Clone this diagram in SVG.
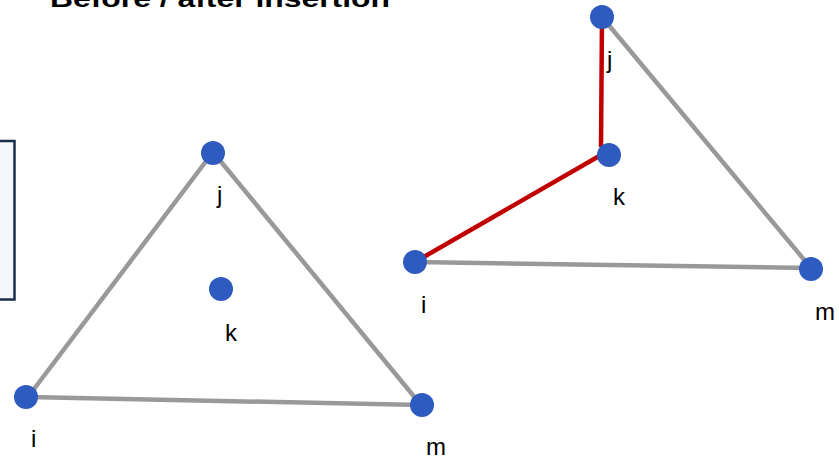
<svg xmlns="http://www.w3.org/2000/svg" width="839" height="456" viewBox="0 0 839 456">
<style>
.edge{stroke:#999999;stroke-width:4.5;fill:none;stroke-linecap:butt}
.new{stroke:#c00000;stroke-width:4.5;fill:none}
.dot{fill:#2e5bbf}
.lbl{font-family:"Liberation Sans",Arial,sans-serif;font-size:24px;fill:#000}
.title{font-family:"Liberation Sans",Arial,sans-serif;font-size:24px;font-weight:bold;fill:#000}
</style>
<rect width="839" height="456" fill="#ffffff"/>
<text class="title" x="50" y="7" textLength="340" lengthAdjust="spacingAndGlyphs">Before / after insertion</text>
<rect id="box" x="-10" y="141" width="24.5" height="158.5" fill="#f4f6f9" stroke="#1a2e4a" stroke-width="2.5"/>
<g id="connectors">
<line class="edge" x1="213" y1="152" x2="28" y2="397"/>
<line class="edge" x1="213" y1="152" x2="421" y2="405"/>
<line class="edge" x1="28" y1="397" x2="421" y2="405"/>
<line class="edge" x1="602" y1="17" x2="811" y2="268"/>
<line class="edge" x1="415" y1="262" x2="811" y2="268"/>
<line class="new" x1="602" y1="17" x2="601" y2="147"/>
<line class="new" x1="415" y1="262" x2="601" y2="155"/>
</g>
<g id="L_j"><circle class="dot" cx="213" cy="153" r="12"/><text class="lbl" x="217" y="203">j</text></g>
<g id="L_i"><circle class="dot" cx="26" cy="397" r="12"/><text class="lbl" x="31" y="447">i</text></g>
<g id="L_m"><circle class="dot" cx="422" cy="405" r="12"/><text class="lbl" x="426" y="455">m</text></g>
<g id="L_k"><circle class="dot" cx="221" cy="289" r="12"/><text class="lbl" x="225" y="341">k</text></g>
<g id="R_j"><circle class="dot" cx="602" cy="17" r="12"/><text class="lbl" x="607" y="68">j</text></g>
<g id="R_k"><circle class="dot" cx="609" cy="155" r="12"/><text class="lbl" x="613" y="205">k</text></g>
<g id="R_i"><circle class="dot" cx="415" cy="262" r="12"/><text class="lbl" x="421" y="313">i</text></g>
<g id="R_m"><circle class="dot" cx="811" cy="269" r="12"/><text class="lbl" x="815" y="320">m</text></g>
</svg>
